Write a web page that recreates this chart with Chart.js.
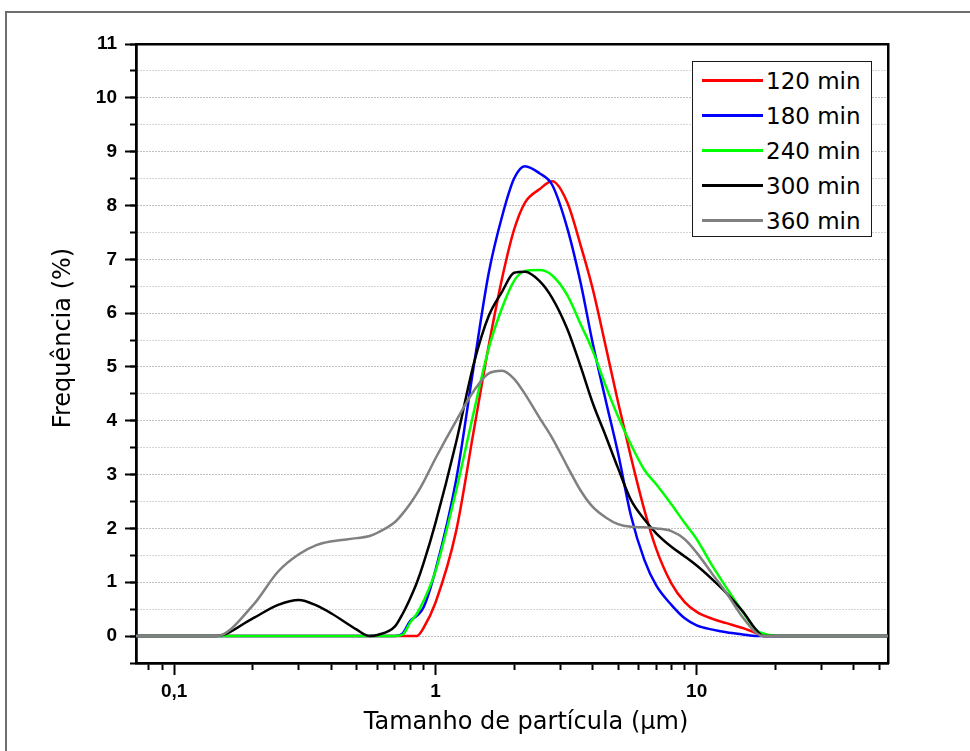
<!DOCTYPE html>
<html>
<head>
<meta charset="utf-8">
<script src="https://cdn.jsdelivr.net/npm/chart.js@4.4.1/dist/chart.umd.min.js"></script>
<style>
  html, body { margin: 0; padding: 0; background: #fff; overflow: hidden; }
  #wrap { position: relative; width: 970px; height: 751px; overflow: hidden; }
  #frame { position: absolute; left: 5px; top: 11px; width: 990px; height: 780px; border: 2px solid #6e6e6e; box-sizing: border-box; }
  #psdChart { position: absolute; left: 0; top: 0; }
  #legend { position: absolute; left: 692px; top: 61px; width: 180px; height: 176px; border: 1.5px solid #1a1a1a; background: #fff; box-sizing: border-box; font-family: "DejaVu Sans", sans-serif; font-size: 23px; }
  .row { position: absolute; left: 0; width: 100%; height: 30px; }
  .swatch { position: absolute; left: 8.5px; top: 13.5px; width: 61px; height: 3px; }
  .label { position: absolute; left: 73px; top: 0; line-height: 30px; color: #000; white-space: nowrap; }
</style>
</head>
<body>
<div id="wrap">
  <div id="frame"></div>
  <canvas id="psdChart" width="970" height="751"></canvas>
  <div id="legend"></div>
</div>
<script>
// particle size (µm) shared by every series
const sizes = [0.07, 0.145, 0.2, 0.25, 0.3, 0.35, 0.4, 0.5, 0.56, 0.6,
  0.7, 0.75, 0.8, 0.85, 0.9, 1.0, 1.2, 1.4, 1.6, 1.8,
  2.0, 2.2, 2.5, 2.8, 3.2, 3.6, 4.0, 4.5, 5.0, 5.6,
  6.3, 7, 8, 9, 10, 11.5, 13, 15, 17, 18,
  19, 21, 54];

// frequency (%)
const freq120 = [0, 0, 0, 0, 0, 0, 0, 0, 0, 0,
  0, 0, 0, 0, 0.15, 0.62, 1.95, 3.8, 5.4, 6.65,
  7.55, 8.05, 8.3, 8.45, 8.05, 7.25, 6.45, 5.35, 4.35, 3.33,
  2.35, 1.62, 0.98, 0.63, 0.45, 0.32, 0.24, 0.15, 0.05, 0,
  0, 0, 0];
const freq180 = [0, 0, 0, 0, 0, 0, 0, 0, 0, 0,
  0, 0.05, 0.28, 0.38, 0.53, 1.22, 2.9, 5.0, 6.75, 7.8,
  8.5, 8.73, 8.6, 8.38, 7.57, 6.55, 5.44, 4.35, 3.4, 2.24,
  1.42, 0.94, 0.58, 0.33, 0.2, 0.12, 0.07, 0.03, 0, 0,
  0, 0, 0];
const freq240 = [0, 0, 0, 0, 0, 0, 0, 0, 0, 0,
  0, 0.03, 0.25, 0.42, 0.65, 1.2, 2.7, 4.15, 5.35, 6.1,
  6.6, 6.78, 6.8, 6.7, 6.33, 5.79, 5.3, 4.63, 4.08, 3.56,
  3.09, 2.82, 2.45, 2.1, 1.8, 1.3, 0.9, 0.45, 0.1, 0.05,
  0.02, 0, 0];
const freq300 = [0, 0, 0.33, 0.58, 0.67, 0.57, 0.42, 0.12, 0, 0.02,
  0.18, 0.42, 0.7, 1.0, 1.35, 2.1, 3.6, 5.05, 5.95, 6.4,
  6.75, 6.77, 6.6, 6.28, 5.7, 5.0, 4.33, 3.7, 3.12, 2.53,
  2.17, 1.91, 1.66, 1.48, 1.31, 1.05, 0.8, 0.46, 0.1, 0,
  0, 0, 0];
const freq360 = [0, 0, 0.57, 1.2, 1.52, 1.69, 1.76, 1.82, 1.86, 1.92,
  2.12, 2.28, 2.46, 2.65, 2.86, 3.3, 4.0, 4.55, 4.88, 4.93,
  4.78, 4.5, 4.06, 3.68, 3.15, 2.7, 2.4, 2.2, 2.08, 2.03,
  2.02, 2.0, 1.95, 1.8, 1.55, 1.15, 0.8, 0.35, 0.05, 0,
  0, 0, 0];

const seriesNames = ["120 min", "180 min", "240 min", "300 min", "360 min"];
const seriesValues = [freq120, freq180, freq240, freq300, freq360];
const seriesColors = ["#ff0000", "#0000ff", "#00ff00", "#000000", "#808080"];

const xMajorTicks = [0.1, 1, 10];
const xMinorTicks = [0.08, 0.09, 0.2, 0.3, 0.4, 0.5, 0.6, 0.7, 0.8, 0.9,
  2, 3, 4, 5, 6, 7, 8, 9, 20, 30, 40, 50];
const yMajorTicks = [0, 1, 2, 3, 4, 5, 6, 7, 8, 9, 10, 11];
const yMinorTicks = [-0.5, 0, 0.5, 1, 1.5, 2, 2.5, 3, 3.5, 4, 4.5, 5, 5.5,
  6, 6.5, 7, 7.5, 8, 8.5, 9, 9.5, 10, 10.5, 11];

const xTitle = "Tamanho de partícula (µm)";
const yTitle = "Frequência (%)";

const X_MIN = 0.0714;
const X_MAX = 54;
const tickFont = { family: "'Liberation Sans', Arial, sans-serif", size: 19, weight: "bold" };

function setTicks(list) {
  return (scale) => {
    scale.ticks = list.map((v) => ({ value: v }));
  };
}

// axis titles sit a bit off the plot centre in the original, so place them by hand
const axisTitles = {
  id: "axisTitles",
  afterDraw(chart) {
    const { ctx, chartArea } = chart;
    ctx.save();
    ctx.fillStyle = "#000";
    ctx.font = "24px 'DejaVu Sans', sans-serif";
    ctx.textAlign = "center";
    ctx.textBaseline = "middle";
    ctx.fillText(xTitle, chartArea.left + 390, chartArea.bottom + 60);
    ctx.translate(64, chartArea.top + 294);
    ctx.rotate(-Math.PI / 2);
    ctx.fillText(yTitle, 0, 0);
    ctx.restore();
  },
};

const datasets = seriesNames.map((name, i) => ({
  label: name,
  data: sizes.map((s, j) => ({ x: s, y: seriesValues[i][j] })),
  borderColor: seriesColors[i],
  borderWidth: 2.5,
  pointRadius: 0,
  cubicInterpolationMode: "monotone",
  fill: false,
  order: seriesNames.length - i,
}));

const ctx = document.getElementById("psdChart").getContext("2d");
new Chart(ctx, {
  type: "line",
  data: { datasets },
  plugins: [axisTitles],
  options: {
    responsive: false,
    animation: false,
    layout: { padding: { top: 44, right: 82, left: 0, bottom: 0 } },
    plugins: { legend: { display: false }, tooltip: { enabled: false } },
    scales: {
      x: {
        type: "logarithmic",
        position: "bottom",
        weight: 1,
        min: X_MIN,
        max: X_MAX,
        afterBuildTicks: setTicks(xMajorTicks),
        afterFit: (s) => { s.height = 88; },
        ticks: {
          autoSkip: false,
          maxRotation: 0,
          color: "#000",
          font: tickFont,
          padding: 5,
          callback: (v) => (v === 0.1 ? "0,1" : String(v)),
        },
        grid: { drawOnChartArea: false, tickLength: 12, tickWidth: 2, tickColor: "#000" },
        border: { color: "#000", width: 2.5 },
      },
      xMinor: {
        type: "logarithmic",
        position: "bottom",
        weight: 0,
        min: X_MIN,
        max: X_MAX,
        afterBuildTicks: setTicks(xMinorTicks),
        afterFit: (s) => { s.height = 0; },
        ticks: { display: false, autoSkip: false },
        grid: { drawOnChartArea: false, tickLength: 7, tickWidth: 2, tickColor: "#000" },
        border: { color: "#000", width: 2.5 },
      },
      y: {
        type: "linear",
        position: "left",
        weight: 1,
        min: -0.5,
        max: 11,
        afterBuildTicks: setTicks(yMajorTicks),
        afterFit: (s) => { s.width = 136; },
        ticks: { autoSkip: false, color: "#000", font: tickFont, padding: 8 },
        grid: { drawOnChartArea: false, tickLength: 11, tickWidth: 2, tickColor: "#000" },
        border: { color: "#000", width: 2.5 },
      },
      yMinor: {
        type: "linear",
        position: "left",
        weight: 0,
        min: -0.5,
        max: 11,
        afterBuildTicks: setTicks(yMinorTicks),
        afterFit: (s) => { s.width = 0; },
        ticks: { display: false, autoSkip: false },
        grid: {
          drawOnChartArea: true,
          tickLength: 6,
          tickWidth: 2,
          tickColor: "#000",
          lineWidth: 1,
          color: (c) => {
            const v = c.tick ? c.tick.value : null;
            if (v === -0.5 || v === 11) return "rgba(0,0,0,0)";
            return Number.isInteger(v) ? "#808080" : "#a8a8a8";
          },
        },
        border: { color: "#000", width: 2.5, dash: [1, 2] },
      },
      xTop: {
        type: "linear",
        position: "top",
        afterFit: (s) => { s.height = 0; },
        ticks: { display: false },
        grid: { display: false, drawTicks: false },
        border: { color: "#000", width: 2.5 },
      },
      yRight: {
        type: "linear",
        position: "right",
        afterFit: (s) => { s.width = 0; },
        ticks: { display: false },
        grid: { display: false, drawTicks: false },
        border: { color: "#000", width: 2.5 },
      },
    },
  },
});

// legend box inside the plot, built from the same series lists
const legendBox = document.getElementById("legend");
seriesNames.forEach((name, i) => {
  const row = document.createElement("div");
  row.className = "row";
  row.style.top = 3.5 + i * 35 + "px";
  row.innerHTML = `<span class="swatch" style="background:${seriesColors[i]}"></span><span class="label">${name}</span>`;
  legendBox.appendChild(row);
});
</script>
</body>
</html>
